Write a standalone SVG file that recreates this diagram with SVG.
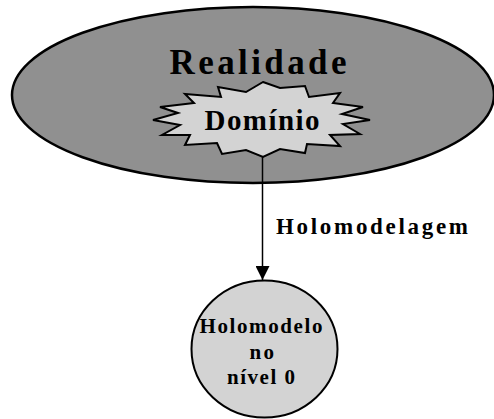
<svg xmlns="http://www.w3.org/2000/svg" width="494" height="419" viewBox="0 0 494 419">
<style>
text{font-family:"Liberation Serif","Times New Roman",serif;font-weight:bold;fill:#000}
.dark{fill:#909090;stroke:#000;stroke-width:2.5}
.light{fill:#d3d3d3;stroke:#000;stroke-width:2}
.conn{stroke:#000;stroke-width:1.5;fill:none}
</style>
<defs>
<marker id="arrow" viewBox="0 0 14 14" refX="14" refY="7" markerWidth="14" markerHeight="14" markerUnits="userSpaceOnUse" orient="auto">
<path d="M0,0 L14,7 L0,14 Z" fill="#000"/>
</marker>
</defs>
<rect width="494" height="419" fill="#fff"/>
<g id="realidade">
<ellipse class="dark" cx="253" cy="95" rx="241" ry="88"/>
<text x="169.5" y="73.5" font-size="35" textLength="177" lengthAdjust="spacing">Realidade</text>
</g>
<g id="dominio">
<polygon class="light" points="263,82 280,88 305,86 309,97 340,93 333,103 363,107 342,114 370,120 343,124 360,134 330,135 340,146 307,144 305,153 280,149 263,157 246,150 222,154 217,143 185,145 190,135 162,135 180,125 153,120 178,113 160,107 194,103 185,94 221,97 218,87 246,92"/>
<text x="204.5" y="129.5" font-size="29" textLength="115" lengthAdjust="spacing">Domínio</text>
</g>
<g id="connectors">
<line class="conn" x1="262.5" y1="157" x2="262.5" y2="280" marker-end="url(#arrow)"/>
<text x="276" y="233.5" font-size="23" textLength="192" lengthAdjust="spacing">Holomodelagem</text>
</g>
<g id="holomodelo">
<ellipse class="light" cx="264.5" cy="349" rx="73" ry="68.5"/>
<text x="199.5" y="333" font-size="21" textLength="123" lengthAdjust="spacing">Holomodelo</text>
<text x="249.5" y="358.5" font-size="21" textLength="24.5" lengthAdjust="spacing">no</text>
<text x="227" y="383.5" font-size="21" textLength="68" lengthAdjust="spacing">nível 0</text>
</g>
</svg>
